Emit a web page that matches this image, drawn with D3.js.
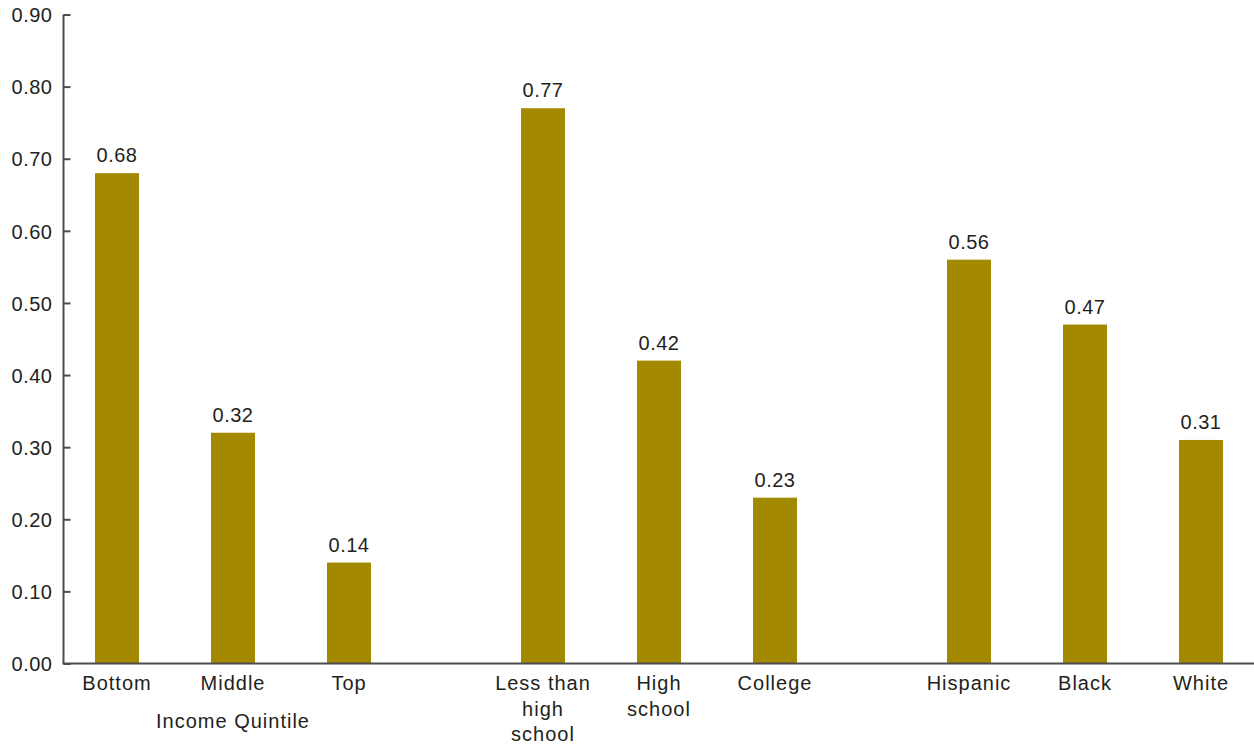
<!DOCTYPE html>
<html>
<head>
<meta charset="utf-8">
<script src="https://cdn.jsdelivr.net/npm/d3@7"></script>
<style>
  html, body { margin: 0; padding: 0; background: #fff; }
  svg text { font-family: "Liberation Sans", Arial, sans-serif; fill: #231f20; }
</style>
</head>
<body>
<svg id="chart" width="1254" height="746"></svg>
<script>
// Categories, split into three groups
const categories = ["Bottom", "Middle", "Top",
  "Less than high school", "High school", "College",
  "Hispanic", "Black", "White"];
const categoryLines = [["Bottom"], ["Middle"], ["Top"],
  ["Less than", "high", "school"], ["High", "school"], ["College"],
  ["Hispanic"], ["Black"], ["White"]];
const groupIndex = [0, 0, 0, 1, 1, 1, 2, 2, 2];
const positionInGroup = [0, 1, 2, 0, 1, 2, 0, 1, 2];
const values = [0.68, 0.32, 0.14, 0.77, 0.42, 0.23, 0.56, 0.47, 0.31];
const yTicks = [0, 0.1, 0.2, 0.3, 0.4, 0.5, 0.6, 0.7, 0.8, 0.9];
const groupTitles = [{ text: "Income Quintile", under: "Middle" }];

(function () {
  const svg = d3.select("#chart");
  const plotLeft = 63.5, plotBottom = 663.5, plotTop = 14.5, plotRight = 1254;
  const barW = 44;
  const fontSize = 20;

  // Group origin scale and in-group step scale
  const xGroup = d3.scaleLinear().domain([0, 2]).range([117, 969]);
  const xStep = d3.scaleLinear().domain([0, 2]).range([0, 232]);
  const cx = i => xGroup(groupIndex[i]) + xStep(positionInGroup[i]);
  const y = d3.scaleLinear().domain([0, 0.9]).range([plotBottom, plotTop]);

  // Y axis
  const yAxis = d3.axisLeft(y).tickValues(yTicks).tickFormat(d3.format(".2f"))
    .tickSize(-7).tickPadding(11);
  const gy = svg.append("g").attr("transform", `translate(${plotLeft},0)`).call(yAxis);
  gy.select(".domain").attr("stroke", "#4d4d4d").attr("stroke-width", 2)
    .attr("d", `M0,${plotTop}V${plotBottom}`);
  gy.selectAll(".tick line").attr("stroke", "#4d4d4d").attr("stroke-width", 2);
  gy.selectAll(".tick text").attr("font-size", fontSize)
    .style("font-family", "'Liberation Sans', Arial, sans-serif")
    .style("letter-spacing", "0.5px")
    .attr("fill", "#231f20").attr("x", -11).attr("dy", "0.36em");

  // Bars
  svg.append("g").selectAll("rect").data(values).join("rect")
    .attr("x", (d, i) => cx(i) - barW / 2)
    .attr("y", d => y(d))
    .attr("width", barW)
    .attr("height", d => y(0) - y(d))
    .attr("fill", "#a38900");

  // Value labels
  svg.append("g").selectAll("text").data(values).join("text")
    .attr("x", (d, i) => cx(i))
    .attr("y", d => y(d) - 11)
    .attr("text-anchor", "middle")
    .attr("font-size", fontSize)
    .style("letter-spacing", "0.5px")
    .text(d => d.toFixed(2));

  // X axis line
  svg.append("line")
    .attr("x1", plotLeft - 1).attr("x2", plotRight)
    .attr("y1", plotBottom).attr("y2", plotBottom)
    .attr("stroke", "#4d4d4d").attr("stroke-width", 2);

  // Category labels
  const cat = svg.append("g").selectAll("text").data(categoryLines).join("text")
    .attr("text-anchor", "middle")
    .attr("font-size", fontSize)
    .style("letter-spacing", "1px");
  cat.each(function (lines, i) {
    d3.select(this).selectAll("tspan").data(lines).join("tspan")
      .attr("x", cx(i))
      .attr("y", (l, j) => 690 + j * 25.5)
      .text(l => l);
  });

  // Group titles
  svg.append("g").selectAll("text").data(groupTitles).join("text")
    .attr("x", d => cx(categories.indexOf(d.under)))
    .attr("y", 728)
    .attr("text-anchor", "middle")
    .attr("font-size", fontSize)
    .style("letter-spacing", "1px")
    .text(d => d.text);
})();
</script>
</body>
</html>
